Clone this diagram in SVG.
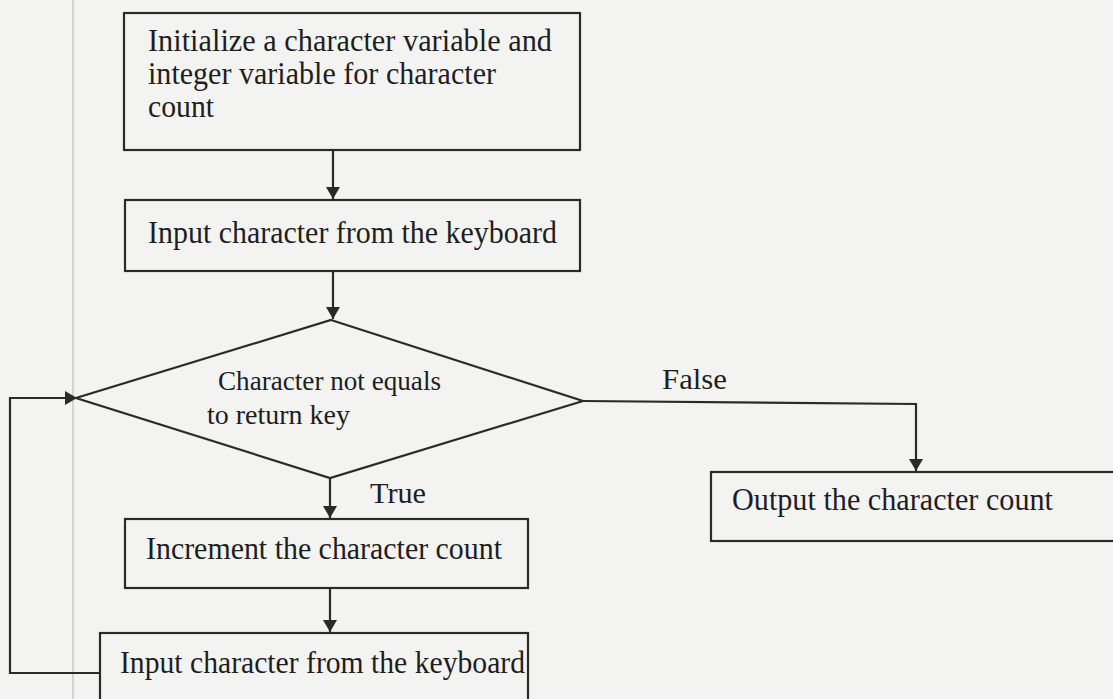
<svg xmlns="http://www.w3.org/2000/svg" width="1113" height="699" viewBox="0 0 1113 699">
<style>
.box{fill:none;stroke:#2a2a2a;stroke-width:2.2}
.t{font-family:"Liberation Serif",serif;font-size:32px;fill:#1e1e1e}
.f{font-family:"Liberation Serif",serif;font-size:30px;fill:#1e1e1e}
.s{font-family:"Liberation Serif",serif;font-size:27px;fill:#1e1e1e}
.c{fill:none;stroke:#2a2a2a;stroke-width:2.2}
</style>
<defs>
<marker id="a" markerWidth="12" markerHeight="14" refX="12" refY="7" orient="auto" markerUnits="userSpaceOnUse" viewBox="0 0 12 14"><path d="M0,0 L12,7 L0,14 Z" fill="#2a2a2a"/></marker>
</defs>
<rect width="1113" height="699" fill="#f3f3f2"/>
<line x1="73" y1="0" x2="73" y2="699" stroke="#c8c8cc" stroke-width="1.5"/>
<g id="n1"><rect class="box" x="124" y="13" width="456" height="137"/>
<text class="t" x="148" y="51" textLength="404" lengthAdjust="spacingAndGlyphs">Initialize a character variable and</text>
<text class="t" x="148" y="84" textLength="348" lengthAdjust="spacingAndGlyphs">integer variable for character</text>
<text class="t" x="148" y="117" textLength="66" lengthAdjust="spacingAndGlyphs">count</text></g>
<g id="n2"><rect class="box" x="125" y="200" width="455" height="71"/>
<text class="t" x="148" y="243" textLength="409" lengthAdjust="spacingAndGlyphs">Input character from the keyboard</text></g>
<g id="n3"><polygon class="box" points="331,320 583,401 330,478 76,398"/>
<text class="s" x="218" y="390" textLength="223" lengthAdjust="spacingAndGlyphs">Character not equals</text>
<text class="s" x="207" y="424" textLength="143" lengthAdjust="spacingAndGlyphs">to return key</text></g>
<g id="n4"><rect class="box" x="711" y="472" width="420" height="69"/>
<text class="t" x="732" y="510" textLength="321" lengthAdjust="spacingAndGlyphs">Output the character count</text></g>
<g id="n5"><rect class="box" x="125" y="519" width="403" height="69"/>
<text class="t" x="146" y="559" textLength="356" lengthAdjust="spacingAndGlyphs">Increment the character count</text></g>
<g id="n6"><rect class="box" x="100" y="633" width="428" height="80"/>
<text class="t" x="120" y="673" textLength="405" lengthAdjust="spacingAndGlyphs">Input character from the keyboard</text></g>
<g id="connectors">
<line class="c" x1="333" y1="150" x2="333" y2="199" marker-end="url(#a)"/>
<line class="c" x1="333" y1="271" x2="333" y2="319" marker-end="url(#a)"/>
<polyline class="c" points="583,401 916,404 916,471" marker-end="url(#a)"/>
<line class="c" x1="330" y1="478" x2="330" y2="518" marker-end="url(#a)"/>
<line class="c" x1="330" y1="588" x2="330" y2="632" marker-end="url(#a)"/>
<polyline class="c" points="100,673 10,673 10,398 77,398" marker-end="url(#a)"/>
<text class="f" x="662" y="389" textLength="65" lengthAdjust="spacingAndGlyphs">False</text>
<text class="f" x="370" y="503" textLength="56" lengthAdjust="spacingAndGlyphs">True</text>
</g>
</svg>
